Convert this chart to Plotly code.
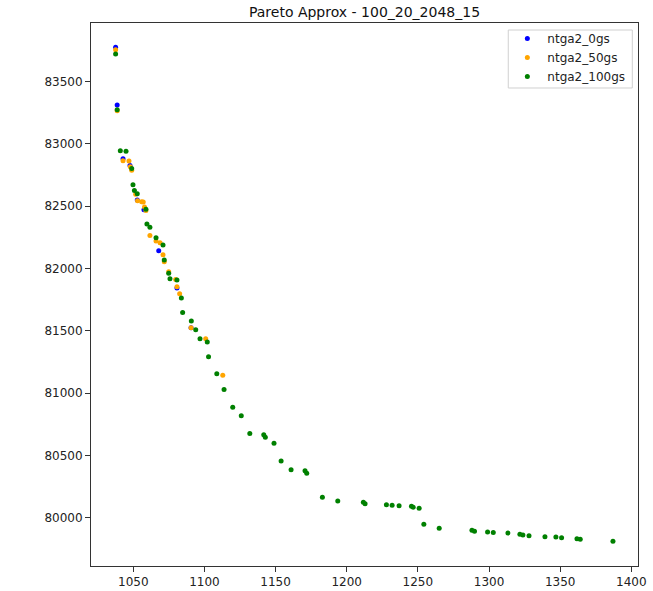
import plotly.graph_objects as go

# ---- data ----
x_0gs = [1037.6, 1038.7, 1042.8, 1047.7, 1052.8, 1057.5, 1067.9, 1080.7, 1090.6]
y_0gs = [83774, 83311, 82880, 82826, 82548, 82470, 82141, 81842, 81523]

x_50gs = [1037.6, 1038.7, 1042.8, 1047.0, 1047.9, 1048.9, 1051.7, 1053.0, 1055.9, 1057.0,
          1057.9, 1058.9, 1061.7, 1066.0, 1068.8, 1070.9, 1071.8, 1074.9, 1079.8, 1080.7,
          1082.6, 1090.6, 1100.9, 1112.9]
y_50gs = [83755, 83265, 82864, 82862, 82816, 82788, 82595, 82543, 82535, 82533,
          82493, 82464, 82264, 82219, 82206, 82109, 82053, 81973, 81911, 81852,
          81796, 81523, 81435, 81143]

x_100gs = [1037.6, 1038.7, 1040.9, 1044.9, 1048.9, 1049.8, 1050.8, 1052.8, 1058.9, 1059.6,
           1061.7, 1066.0, 1070.9, 1071.8, 1074.9, 1075.8, 1080.7, 1083.8, 1084.7, 1090.8,
           1093.9, 1096.9, 1102.0, 1102.9, 1108.7, 1113.8, 1119.9, 1125.9, 1131.9, 1141.7,
           1142.8, 1148.9, 1153.9, 1160.9, 1170.7, 1171.9, 1182.9, 1193.7, 1211.7, 1212.9,
           1227.9, 1231.9, 1236.8, 1245.5, 1246.7, 1250.9, 1254.2, 1265.0, 1288.0, 1289.8,
           1299.0, 1303.0, 1313.3, 1321.7, 1323.8, 1328.1, 1339.3, 1347.0, 1351.0, 1361.8,
           1364.1, 1387.1]
y_100gs = [83721, 83273, 82944, 82939, 82802, 82671, 82625, 82599, 82475, 82356,
           82330, 82246, 82187, 82067, 81962, 81916, 81906, 81762, 81646, 81577,
           81507, 81435, 81409, 81292, 81154, 81028, 80886, 80817, 80676, 80666,
           80646, 80597, 80455, 80385, 80377, 80356, 80164, 80134, 80124, 80112,
           80104, 80100, 80096, 80092, 80084, 80075, 79947, 79915, 79899, 79891,
           79885, 79880, 79877, 79867, 79861, 79855, 79847, 79845, 79839, 79831,
           79827, 79811]

series = [
    ("ntga2_0gs", x_0gs, y_0gs, "blue"),
    ("ntga2_50gs", x_50gs, y_50gs, "orange"),
    ("ntga2_100gs", x_100gs, y_100gs, "green"),
]

x_ticks = [1050, 1100, 1150, 1200, 1250, 1300, 1350, 1400]
y_ticks = [80000, 80500, 81000, 81500, 82000, 82500, 83000, 83500]

fig = go.Figure()
for name, xs, ys, col in series:
    fig.add_trace(go.Scatter(x=xs, y=ys, mode="markers", name=name,
                             marker=dict(color=col, size=5, line=dict(width=0))))

axis_common = dict(showgrid=False, zeroline=False, showline=True, linecolor="#333",
                   linewidth=1, mirror=True, ticks="outside", ticklen=5,
                   tickcolor="#333", tickfont=dict(size=12, color="#222"),
                   automargin=False)

# legend frame (paper coordinates)
fig.add_shape(type="rect", xref="paper", yref="paper",
              x0=0.7628, x1=0.9896, y0=0.8803, y1=0.9871,
              line=dict(color="#d0d0d0", width=1), fillcolor="rgba(255,255,255,0.8)",
              layer="above")

fig.update_layout(
    width=653, height=591,
    margin=dict(l=91, r=15, t=23, b=25),
    paper_bgcolor="white", plot_bgcolor="white",
    font=dict(family="DejaVu Sans", color="#222"),
    title=dict(text="Pareto Approx - 100_20_2048_15", x=0.5, xref="paper",
               y=1 - 12.0 / 591, yanchor="middle", font=dict(size=14, color="#111")),
    xaxis=dict(range=[1020.3, 1404.7], tickvals=x_ticks,
               ticktext=[str(v) for v in x_ticks], **axis_common),
    yaxis=dict(range=[79612, 83969], tickvals=y_ticks,
               ticktext=[str(v) for v in y_ticks], **axis_common),
    legend=dict(x=0.986, y=0.998, xanchor="right", yanchor="top",
                bgcolor="rgba(0,0,0,0)", borderwidth=0,
                font=dict(size=12, color="#222"), itemsizing="trace"),
    showlegend=True,
)

fig.write_html("out.html", config={"displayModeBar": False},
               post_script="document.body.style.margin='0';document.body.style.overflow='hidden';")
